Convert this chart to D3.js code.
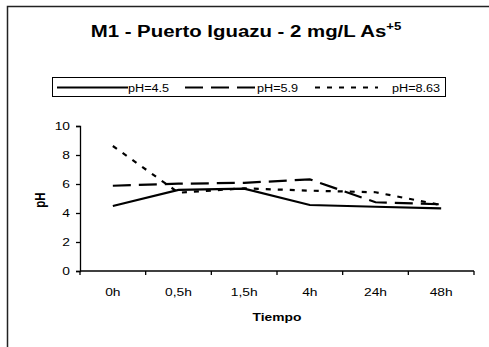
<!DOCTYPE html>
<html><head><meta charset="utf-8">
<script src="https://cdn.jsdelivr.net/npm/d3@7"></script>
<style>
html,body{margin:0;padding:0;background:#fff;}
svg{display:block;font-family:Arial,"Liberation Sans",sans-serif;}
</style></head>
<body>
<svg id="chart" width="489" height="347"></svg>
<script>
const categories = ["0h","0,5h","1,5h","4h","24h","48h"];
const seriesNames = ["pH=4.5","pH=5.9","pH=8.63"];
const ph45 = [4.48, 5.59, 5.68, 4.55, 4.43, 4.32];
const ph59 = [5.88, 6.02, 6.08, 6.32, 4.74, 4.6];
const ph863 = [8.62, 5.4, 5.7, 5.54, 5.43, 4.55];
const yTicks = [0,2,4,6,8,10];
const dashes = [null, "18,8", "5,7"];
const SX = 1.2;

const svg = d3.select("#chart");
svg.append("rect").attr("x",7.5).attr("y",6.5).attr("width",495).attr("height",355)
  .attr("fill","#fff").attr("stroke","#222").attr("stroke-width",1.5);

const x = d3.scaleBand().domain(categories).range([80,474]);
const y = d3.scaleLinear().domain([0,10]).range([271,126]);

function txt(parent, px, py, str, size, anchor, bold, sx){
  const g = parent.append("g").attr("transform",`translate(${px},${py}) scale(${sx||SX},1)`);
  return g.append("text").attr("text-anchor",anchor||"start").attr("font-size",size)
    .attr("font-weight",bold?"bold":"normal").attr("fill","#000").text(str);
}

// title
const tg = svg.append("g").attr("transform",`translate(246,37) scale(${SX},1)`);
const t = tg.append("text").attr("text-anchor","middle")
  .attr("font-size",17).attr("font-weight","bold").attr("fill","#000");
t.append("tspan").text("M1 - Puerto Iguazu - 2 mg/L As");
t.append("tspan").attr("font-size",11).attr("dy",-7).text("+5");

// y axis
const ya = svg.append("g").attr("transform","translate(80,0)")
  .call(d3.axisLeft(y).tickValues(yTicks).tickSize(4).tickFormat(""));
ya.select(".domain").attr("stroke","#000").attr("stroke-width",1.3);
ya.selectAll(".tick line").attr("stroke","#000").attr("stroke-width",1.3);
yTicks.forEach(v=>txt(svg,70,y(v)+4,String(v),11.5,"end",false));

// x axis
const xa = svg.append("g").attr("transform","translate(0,271)");
xa.append("line").attr("x1",80).attr("x2",474).attr("stroke","#000").attr("stroke-width",1.3);
const edges = categories.map(c=>x(c)).concat([x(categories[categories.length-1])+x.bandwidth()]);
xa.selectAll("line.tk").data(edges).join("line").attr("class","tk")
  .attr("x1",d=>d).attr("x2",d=>d).attr("y1",0).attr("y2",4).attr("stroke","#000").attr("stroke-width",1.3);
categories.forEach(c=>txt(svg,x(c)+x.bandwidth()/2,296,c,11.5,"middle",false));

// axis titles
txt(svg,277,321,"Tiempo",11.5,"middle",true);
svg.append("text").attr("transform","translate(45,200) rotate(-90) scale(1,1.2)").attr("text-anchor","middle")
  .attr("font-size",11.5).attr("font-weight","bold").text("pH");

// lines
const data = [ph45, ph59, ph863];
const line = d3.line().x((d,i)=>x(categories[i])+x.bandwidth()/2).y(d=>y(d));
data.forEach((s,k)=>{
  svg.append("path").datum(s).attr("d",line).attr("fill","none").attr("stroke","#000")
    .attr("stroke-width",2.2).attr("stroke-dasharray",dashes[k]);
});

// legend
svg.append("rect").attr("x",52.5).attr("y",77.5).attr("width",393).attr("height",19)
  .attr("fill","#fff").attr("stroke","#000").attr("stroke-width",1);
const legLines = [[57,128],[185,257],[315,378]];
const legText = [128,257,392];
seriesNames.forEach((n,k)=>{
  svg.append("line").attr("x1",legLines[k][0]).attr("x2",legLines[k][1]).attr("y1",87.5).attr("y2",87.5)
    .attr("stroke","#000").attr("stroke-width",2.2).attr("stroke-dasharray",dashes[k]);
  txt(svg,legText[k],91.5,n,11.5,"start",false,1.1);
});
</script>
</body></html>
